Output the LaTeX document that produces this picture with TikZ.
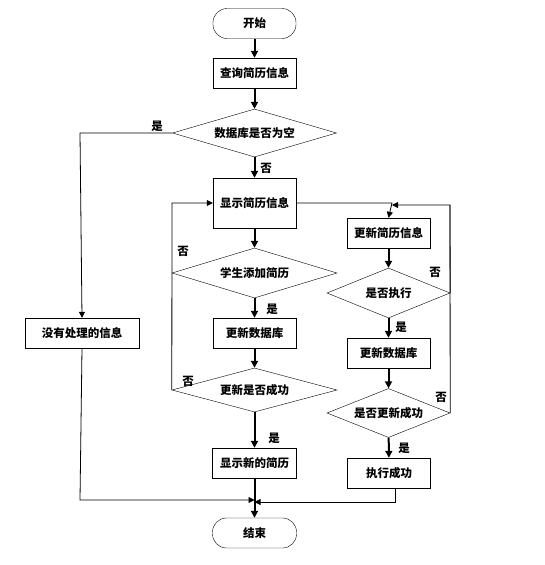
\documentclass[tikz,border=0pt]{standalone}
\usepackage{fontspec}
\setmainfont{Noto Sans CJK SC}
\usepackage{tikz}
\usetikzlibrary{shapes.geometric,arrows.meta}
\tikzstyle{proc} = [draw, thin, minimum width=83pt, minimum height=30pt, inner sep=0pt, text centered]
\tikzstyle{term} = [proc, rounded corners=14pt]
\tikzstyle{decide} = [draw, thin, diamond, aspect=3, inner sep=0pt, text centered]
\tikzstyle{flow} = [line width=2pt, -{Triangle[length=7pt,width=7pt]}]
\tikzstyle{back} = [line width=0.8pt, -{Triangle[length=6pt,width=6pt]}]
\tikzstyle{plain} = [line width=0.8pt]
\tikzstyle{lab} = [inner sep=0pt]

\begin{document}
\begin{tikzpicture}[x=1pt, y=-1pt, font=\fontsize{11.5}{13}\selectfont\bfseries]
		\useasboundingbox (0,0) rectangle (544,565);
		% main column
		\node[term] (start) at (254.5,23.5) {开始};
		\node[proc] (query) at (254.5,73) {查询简历信息};
		\node[decide, minimum width=164pt, minimum height=48pt] (isempty) at (254.5,133) {数据库是否为空};
		\node[proc, minimum height=50pt] (show) at (254.5,203) {显示简历信息};
		\node[decide, minimum width=165pt, minimum height=50pt] (add) at (254.5,273) {学生添加简历};
		\node[proc] (upddb) at (254.5,333) {更新数据库};
		\node[decide, minimum width=165pt, minimum height=44pt] (addok) at (254.5,390) {更新是否成功};
		\node[proc, minimum width=84pt] (shownew) at (254.5,463) {显示新的简历};
		\node[term, minimum width=84pt] (end) at (254.5,533) {结束};
		% left column
		\node[proc, minimum width=114pt] (nodata) at (82,333) {没有处理的信息};
		% right column
		\node[proc] (edit) at (388.5,233) {更新简历信息};
		\node[decide, minimum width=123pt, minimum height=50pt] (exec) at (388.5,293) {是否执行};
		\node[proc] (editdb) at (388.5,353) {更新数据库};
		\node[decide, minimum width=123pt, minimum height=49pt] (editok) at (388.5,413) {是否更新成功};
		\node[proc] (done) at (389,473) {执行成功};
		% turning points
		\coordinate (leftturn) at (80,133);
		\coordinate (loopl) at (172,203);
		\coordinate (split) at (392,203);
		\coordinate (loopr) at (450,205);
		\coordinate (joinr) at (392,205);
		\coordinate (nodown) at (80,500);
		\coordinate (mergel) at (254.5,500);
		\coordinate (donedown) at (395,502);
		\coordinate (merger) at (254.5,502);

		\draw[flow] (start) -- (query);
		\draw[flow] (query) -- (isempty);
		\draw[flow] (isempty) -- (show);
		\draw[flow] (show) -- (add);
		\draw[flow] (add) -- (upddb);
		\draw[flow] (upddb) -- (addok);
		\draw[flow] (addok) -- (shownew);
		\draw[flow] (shownew) -- (end);
		\draw[flow] (edit) -- (exec);
		\draw[flow] (exec) -- (editdb);
		\draw[flow] (editdb) -- (editok);
		\draw[flow] (editok) -- (done);

		\draw[back] (isempty.west) -- (leftturn) -- (nodata.north);
		\draw[back] (addok.west) -- (loopl) -- (show.west);
		\draw[back] (show.east) -- (split) -- (edit.north);
		\draw[back] (editok.east) -- (loopr) -- (joinr);
		\draw[plain] (exec.east) -- (loopr);
		\draw[back] (nodata.south) -- (nodown) -- (mergel);
		\draw[back] (done.south -| donedown) -- (donedown) -- (merger);

		% branch labels
		\node[lab] (y1) at (157,126) {是};
		\node[lab] (n1) at (266,168) {否};
		\node[lab] (n2) at (183,251) {否};
		\node[lab] (y2) at (272,309) {是};
		\node[lab] (n3) at (188,381) {否};
		\node[lab] (y3) at (274,438) {是};
		\node[lab] (n4) at (435,272) {否};
		\node[lab] (y4) at (401,327) {是};
		\node[lab] (n5) at (441,397) {否};
		\node[lab] (y5) at (404,448) {是};
\end{tikzpicture}
\end{document}
